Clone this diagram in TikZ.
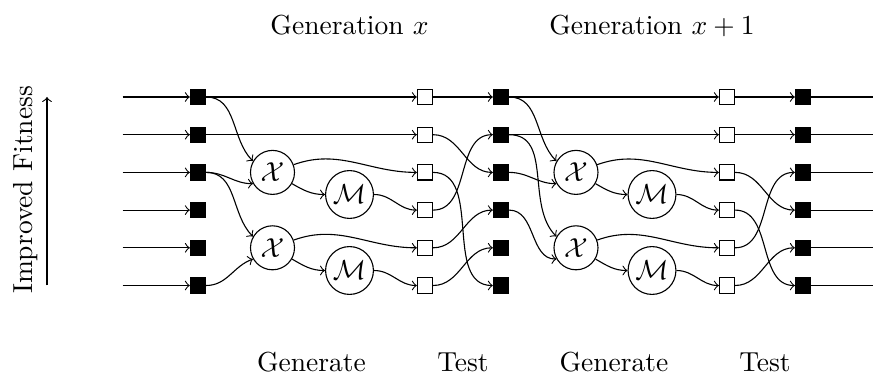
\documentclass[tikz,border=0pt]{standalone}
\begin{document}
\begin{tikzpicture}[x=0.3636pt,y=-0.3636pt,
  sel/.style={draw, fill=black, minimum size=5.5pt, inner sep=0pt},
  cand/.style={draw, fill=white, minimum size=5.5pt, inner sep=0pt},
  xop/.style={draw, circle, minimum size=16pt, inner sep=0pt},
  mop/.style={draw, circle, minimum size=17.4pt, inner sep=0pt},
  lbl/.style={anchor=base, inner sep=0pt},
  link/.style={->, out=0, in=180},
  dive/.style={->, out=0, in=135}]
\useasboundingbox (0,0) rectangle (873,375);
% rows of individuals
\foreach \i/\y in {1/97,2/134.7,3/172.4,4/210.1,5/247.8,6/285.5} {
  \coordinate (in\i) at (122.7,\y);
  \node[sel]  (a\i) at (198,\y) {};
  \node[cand] (p\i) at (425,\y) {};
  \node[sel]  (b\i) at (501,\y) {};
  \node[cand] (q\i) at (727,\y) {};
  \node[sel]  (c\i) at (803,\y) {};
  \coordinate (out\i) at (873,\y);
  \draw[->] (in\i) -- (a\i);
  \draw (c\i) -- (out\i);
}
% operators
\node[xop] (x1) at (272.5,172.4) {$\mathcal{X}$};
\node[xop] (x2) at (272.5,247.8) {$\mathcal{X}$};
\node[mop] (m1) at (349.5,194.5) {$\mathcal{M}$};
\node[mop] (m2) at (349.5,270.5) {$\mathcal{M}$};
\node[xop] (x3) at (576,172.4) {$\mathcal{X}$};
\node[xop] (x4) at (576,247.8) {$\mathcal{X}$};
\node[mop] (m3) at (652,194.5) {$\mathcal{M}$};
\node[mop] (m4) at (652,270.5) {$\mathcal{M}$};
% generation x : generate
\draw[->] (a1) -- (p1);
\draw[->] (a2) -- (p2);
\draw[dive] (a1.east) to (x1.150);
\draw[link] (a3.east) to (x1.210);
\draw[dive] (a3.east) to (x2.150);
\draw[->] (a6.east) to[out=0,in=200] (x2.210);
\draw[->] (x1.20) to[out=20,in=180] (p3.west);
\draw[->] (x1.-30) to[out=-30,in=180] (m1.west);
\draw[link] (m1.east) to (p4.west);
\draw[->] (x2.20) to[out=20,in=180] (p5.west);
\draw[->] (x2.-30) to[out=-30,in=180] (m2.west);
\draw[link] (m2.east) to (p6.west);
% generation x : test
\draw[->] (p1) -- (b1);
\draw[link] (p2.east) to (b3.west);
\draw[link] (p3.east) to (b6.west);
\draw[link] (p4.east) to (b2.west);
\draw[link] (p5.east) to (b4.west);
\draw[link] (p6.east) to (b5.west);
% generation x+1 : generate
\draw[->] (b1) -- (q1);
\draw[->] (b2) -- (q2);
\draw[dive] (b1.east) to (x3.150);
\draw[link] (b3.east) to (x3.210);
\draw[dive] (b2.east) to (x4.150);
\draw[link] (b4.east) to (x4.210);
\draw[->] (x3.20) to[out=20,in=180] (q3.west);
\draw[->] (x3.-30) to[out=-30,in=180] (m3.west);
\draw[link] (m3.east) to (q4.west);
\draw[->] (x4.20) to[out=20,in=180] (q5.west);
\draw[->] (x4.-30) to[out=-30,in=180] (m4.west);
\draw[link] (m4.east) to (q6.west);
% generation x+1 : test
\draw[->] (q1) -- (c1);
\draw[->] (q2) -- (c2);
\draw[link] (q3.east) to (c4.west);
\draw[link] (q4.east) to (c6.west);
\draw[link] (q5.east) to (c3.west);
\draw[link] (q6.east) to (c5.west);
% labels
\node[lbl] (g1) at (349.5,35) {Generation $x$};
\node[lbl] (g2) at (652,35) {Generation $x+1$};
\node[lbl] (t1) at (311.5,371) {Generate};
\node[lbl] (t2) at (463,371) {Test};
\node[lbl] (t3) at (614,371) {Generate};
\node[lbl] (t4) at (765,371) {Test};
\node[lbl, rotate=90] (fit) at (32,190) {Improved Fitness};
\coordinate (fa) at (47,285.5);
\coordinate (fb) at (47,97);
\draw[->] (fa) -- (fb);
\end{tikzpicture}
\end{document}
